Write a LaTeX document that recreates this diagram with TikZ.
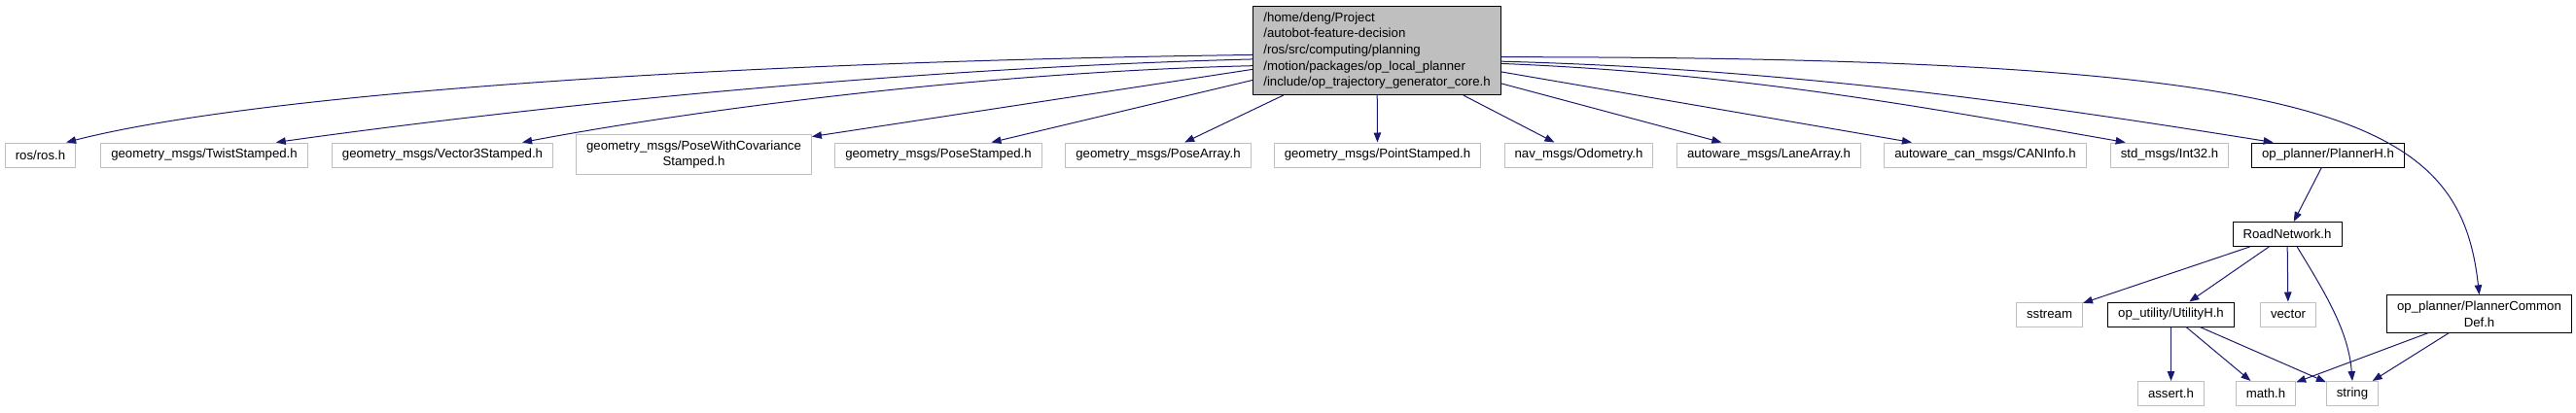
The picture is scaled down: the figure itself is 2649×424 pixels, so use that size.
\documentclass[tikz,border=0pt]{standalone}
\usepackage{fontspec}
\setmainfont{Liberation Sans}
\usepackage{xcolor}
\usetikzlibrary{arrows.meta,positioning}
\definecolor{edgeblue}{HTML}{191970}
\definecolor{boxgray}{HTML}{BFBFBF}

\begin{document}
\begin{tikzpicture}[
    x=1pt, y=-1pt,
    every node/.style={draw=boxgray, line width=1pt, inner xsep=10.5pt, inner ysep=6pt, minimum height=25pt, align=center, font=\fontsize{13.2pt}{16.7pt}\selectfont},
    linked/.style={draw=black},
    arr/.style={-{Triangle[length=10pt,width=7.5pt]}, edgeblue, line width=1pt},
]
\useasboundingbox (0,0) rectangle (2649,424);

% Nodes
\node (root) [linked, fill=boxgray, align=left] at (1416,52) {/home/deng/Project\\/autobot-feature-decision\\/ros/src/computing/planning\\/motion/packages/op\_local\_planner\\/include/op\_trajectory\_generator\_core.h};
\node (ros) at (41.5,159.5) {ros/ros.h};
\node (twist) at (210,159.5) {geometry\_msgs/TwistStamped.h};
\node (vec3) at (455,159.5) {geometry\_msgs/Vector3Stamped.h};
\node (posecov) at (713.5,159) {geometry\_msgs/PoseWithCovariance\\Stamped.h};
\node (posest) at (965,159.5) {geometry\_msgs/PoseStamped.h};
\node (posearr) at (1191,159.5) {geometry\_msgs/PoseArray.h};
\node (pointst) at (1416.5,159.5) {geometry\_msgs/PointStamped.h};
\node (odom) at (1623.5,159.5) {nav\_msgs/Odometry.h};
\node (lane) at (1819,159.5) {autoware\_msgs/LaneArray.h};
\node (can) at (2041.5,159.5) {autoware\_can\_msgs/CANInfo.h};
\node (int32) at (2231,159.5) {std\_msgs/Int32.h};
\node (plannerh) [linked] at (2394,159.5) {op\_planner/PlannerH.h};
\node (roadnet) [linked] at (2352,241) {RoadNetwork.h};
\node (sstream) at (2107.5,323.5) {sstream};
\node (utility) [linked] at (2232.5,323.5) {op\_utility/UtilityH.h};
\node (vector) at (2353,323.5) {vector};
\node (commondef) [linked] at (2549.5,323) {op\_planner/PlannerCommon\\Def.h};
\node (assert) at (2232.5,405) {assert.h};
\node (mathh) at (2330,405) {math.h};
\node (string) at (2419,405) {string};

% Includes of the root file
\draw[arr] (root.182.7) .. controls +(-590,8) and +(183,-47) .. (ros.26);
\draw[arr] (root.184.5) .. controls +(-390,10) and +(220,-31) .. (twist.10);
\draw[arr] (root.187.2) .. controls +(-290,7) and +(163,-31) .. (vec3.9);
\draw[arr] (root) -- (posecov);
\draw[arr] (root) -- (posest);
\draw[arr] (root) -- (posearr);
\draw[arr] (root) -- (pointst);
\draw[arr] (root) -- (odom);
\draw[arr] (root) -- (lane);
\draw[arr] (root) -- (can);
\draw[arr] (root.354.1) .. controls +(250,10) and +(-200,-35) .. (int32.164);
\draw[arr] (root.355) .. controls +(300,8) and +(-250,-40) .. (plannerh.167);
\draw[arr] (root.357.3) .. controls +(858,0) and +(-20,-183) .. (commondef.north);

% Includes further down
\draw[arr] (plannerh) -- (roadnet);
\draw[arr] (roadnet) -- (sstream);
\draw[arr] (roadnet) -- (utility);
\draw[arr] (roadnet) -- (vector);
\draw[arr] (roadnet.-52) .. controls +(28,46) and +(-4,-52) .. (string.north);
\draw[arr] (utility) -- (assert);
\draw[arr] (utility) -- (mathh);
\draw[arr] (utility) -- (string);
\draw[arr] (commondef) -- (mathh);
\draw[arr] (commondef) -- (string);
\end{tikzpicture}
\end{document}
